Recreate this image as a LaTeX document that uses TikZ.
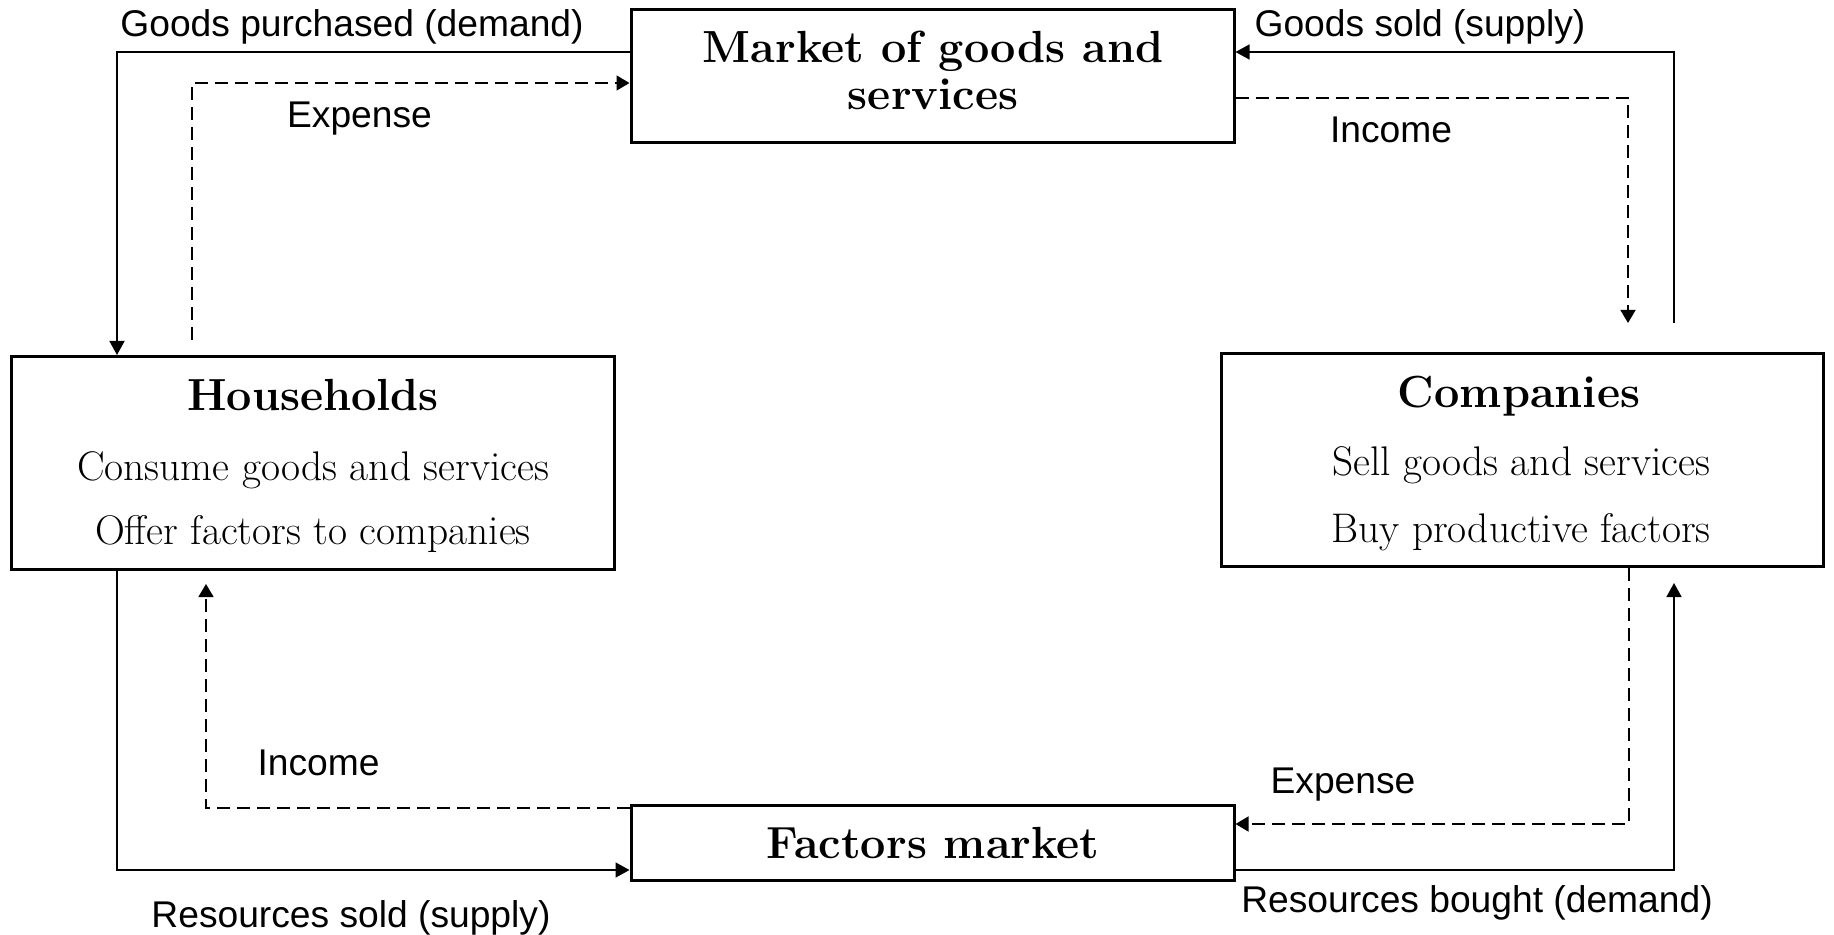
\documentclass[tikz,border=0pt]{standalone}
\usepackage{fontspec}
\newfontfamily\labfont{Liberation Sans}
\usetikzlibrary{arrows.meta,calc}
\begin{document}
\begin{tikzpicture}[x=0.5pt,y=-0.5pt,
  box/.style={draw,line width=1.5pt,inner sep=0pt,rectangle},
  ttl/.style={anchor=base,inner sep=0pt,font=\fontsize{22.5}{25}\selectfont\bfseries},
  body/.style={anchor=base,inner sep=0pt,font=\fontsize{20.7}{24}\selectfont},
  lab/.style={anchor=base,inner sep=0pt,font=\labfont\fontsize{18.6}{22}\selectfont},
  flow/.style={line width=0.75pt,-{Triangle[length=7pt,width=7.5pt]}},
  money/.style={line width=0.75pt,dash pattern=on 6.5pt off 3.5pt,-{Triangle[length=6.5pt,width=7.5pt]}}
]
\useasboundingbox (0,0) rectangle (1834,935);
% boxes
\node[box,minimum width=301.5pt,minimum height=66.5pt] (mk) at (932.5,76) {};
\node[box,minimum width=301.5pt,minimum height=106.5pt] (hh) at (313,463) {};
\node[box,minimum width=301pt,minimum height=106.5pt] (co) at (1522.5,460) {};
\node[box,minimum width=301.5pt,minimum height=37.5pt] (fm) at (932.5,843) {};
% box texts
\node[ttl] (mk1) at (933,63) {Market of goods and};
\node[ttl] (mk2) at (933,110) {services};
\node[ttl] (hh1) at (313,410) {Households};
\node[body] (hh2) at (313,480) {Consume goods and services};
\node[body] (hh3) at (313,544) {Offer factors to companies};
\node[ttl] (co1) at (1519,407) {Companies};
\node[body] (co2) at (1521,475) {Sell goods and services};
\node[body] (co3) at (1521,542) {Buy productive factors};
\node[ttl] (fm1) at (933,858) {Factors market};
% labels
\node[lab] (l1) at (352,37) {Goods purchased (demand)};
\node[lab] (l2) at (359.5,128) {Expense};
\node[lab] (l3) at (1420,37) {Goods sold (supply)};
\node[lab] (l4) at (1391,143) {Income};
\node[lab] (l5) at (318.5,775) {Income};
\node[lab] (l6) at (351,927) {Resources sold (supply)};
\node[lab] (l7) at (1343,793) {Expense};
\node[lab] (l8) at (1477,912) {Resources bought (demand)};
% bend points
\coordinate (c1) at (117,52);
\coordinate (c2) at (192,83);
\coordinate (c3) at (1674,52);
\coordinate (c4) at (1628,98);
\coordinate (c5) at (117,870);
\coordinate (c6) at (206,808);
\coordinate (c7) at (1629,824);
\coordinate (c8) at (1674,870);
% connectors
\draw[flow] (c1 -| mk.west) -- (c1) -- (c1 |- hh.north);
\draw[money] ($(c2 |- hh.north)+(0,-15)$) -- (c2) -- (c2 -| mk.west);
\draw[flow] ($(c3 |- co.north)+(0,-29)$) -- (c3) -- (c3 -| mk.east);
\draw[money] (c4 -| mk.east) -- (c4) -- ($(c4 |- co.north)+(0,-29)$);
\draw[flow] (c5 |- hh.south) -- (c5) -- (c5 -| fm.west);
\draw[money] (c6 -| fm.west) -- (c6) -- ($(c6 |- hh.south)+(0,13)$);
\draw[money] (c7 |- co.south) -- (c7) -- (c7 -| fm.east);
\draw[flow] (c8 -| fm.east) -- (c8) -- ($(c8 |- co.south)+(0,15)$);
\end{tikzpicture}
\end{document}
